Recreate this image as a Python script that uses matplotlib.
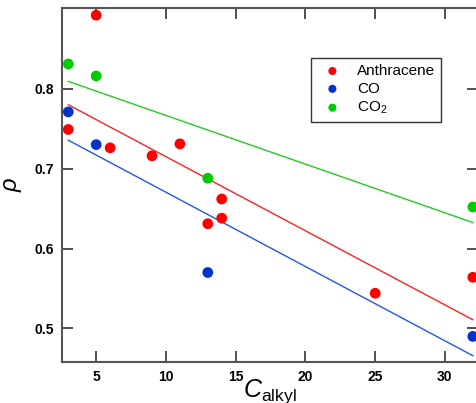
import numpy as np
import matplotlib
matplotlib.use('Agg')
import matplotlib.pyplot as plt

plt.rcParams['font.family'] = ['Liberation Sans', 'DejaVu Sans']
plt.rcParams['mathtext.fontset'] = 'custom'
plt.rcParams['mathtext.rm'] = 'Liberation Sans'
plt.rcParams['mathtext.it'] = 'Liberation Sans:italic'

# 数据
anth_x = [3, 5, 6, 9, 11, 13, 14, 14, 25, 32]
anth_y = [0.749, 0.892, 0.726, 0.716, 0.731, 0.631, 0.662, 0.638, 0.544, 0.564]
co_x = [3, 5, 13, 32]
co_y = [0.771, 0.730, 0.570, 0.490]
co2_x = [3, 5, 13, 32]
co2_y = [0.831, 0.816, 0.688, 0.652]

series = [
    ('Anthracene', anth_x, anth_y, '#ff0000', '#ff2020'),
    ('CO', co_x, co_y, '#0033cc', '#2255ee'),
    ('CO$_2$', co2_x, co2_y, '#00cc00', '#22cc22'),
]

fig = plt.figure(figsize=(4.76, 4.03), dpi=100)
ax = fig.add_axes([62 / 476, 1 - 362 / 403, 416 / 476, 354 / 403])

for name, xs, ys, c, lc in series:
    ax.scatter(xs, ys, s=60, color=c, edgecolors='none', label=name, zorder=3)
    k, b = np.polyfit(xs, ys, 1)
    xx = np.array([min(xs), max(xs)])
    ax.plot(xx, k * xx + b, color=lc, lw=1.0, zorder=2)

ax.set_xlim(2.55, 32.37)
ax.set_ylim(0.458, 0.901)
ax.set_xticks([5, 10, 15, 20, 25, 30])
ax.set_yticks([0.5, 0.6, 0.7, 0.8])
ax.tick_params(direction='in', length=8, width=1.2, color='#333333',
               top=True, right=True, labelsize=10, pad=6)
for lab in ax.get_xticklabels() + ax.get_yticklabels():
    lab.set_fontweight('bold')
for sp in ax.spines.values():
    sp.set_color('#555555')
    sp.set_linewidth(1.5)

ax.set_xlabel(r'$\mathit{C}_{\mathrm{alkyl}}$', fontsize=18, labelpad=-5)
ax.set_ylabel('ρ', fontsize=17, fontstyle='italic', labelpad=8)

leg = ax.legend(loc='upper left', bbox_to_anchor=(0.5986, 0.859),
                borderaxespad=0, frameon=True,
                fancybox=False, edgecolor='black', fontsize=11,
                handletextpad=0.6, borderpad=0.4, labelspacing=0.25,
                markerscale=0.75, scatterpoints=1)
leg.get_frame().set_linewidth(1.0)

fig.savefig('out.png', dpi=100)
